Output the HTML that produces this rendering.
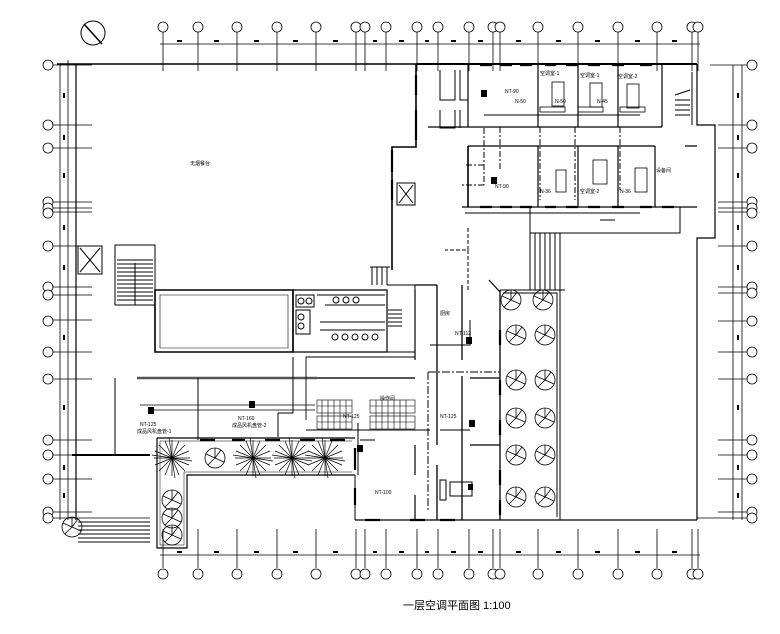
<!DOCTYPE html>
<html><head><meta charset="utf-8"><style>
html,body{margin:0;padding:0;background:#fff;width:780px;height:634px;overflow:hidden}
svg{display:block}
text{font-family:"Liberation Sans","Noto Sans CJK SC",sans-serif;fill:#000}
</style></head><body>
<svg width="780" height="634" viewBox="0 0 780 634" xmlns="http://www.w3.org/2000/svg">
<defs>
<g id="palm" stroke="#000" stroke-width="0.7">
<line x1="-18" y1="0" x2="18" y2="0"/><line x1="0" y1="-18" x2="0" y2="18"/>
<line x1="-13" y1="-13" x2="13" y2="13"/><line x1="-13" y1="13" x2="13" y2="-13"/>
<line x1="-17" y1="-7" x2="17" y2="7"/><line x1="-17" y1="7" x2="17" y2="-7"/>
<line x1="-7" y1="-17" x2="7" y2="17"/><line x1="-7" y1="17" x2="7" y2="-17"/>
<line x1="-20" y1="-3" x2="20" y2="3"/><line x1="-3" y1="-20" x2="3" y2="20"/>
</g>
<g id="tree" stroke="#000" stroke-width="0.8" fill="none">
<circle r="10"/><line x1="0" y1="0" x2="0" y2="-10"/><line x1="0" y1="0" x2="9" y2="4"/><line x1="0" y1="0" x2="-7" y2="7"/><line x1="0" y1="0" x2="-9" y2="-4"/><line x1="0" y1="0" x2="6" y2="-8"/>
</g>
<g id="gc"><circle r="5" fill="#fff" stroke="#000" stroke-width="0.8"/></g>
</defs>

<circle cx="93" cy="33" r="12" fill="none" stroke="#000"/>
<line x1="84" y1="24" x2="102" y2="44" stroke="#000" stroke-width="1.5"/>

<g stroke="#000" stroke-width="0.8" fill="none">
<line x1="160" y1="44" x2="700" y2="44"/>
<line x1="160" y1="555" x2="700" y2="555"/>
<path d="M163 32V71M198 32V71M237 32V71M277 32V71M316 32V71M356 32V71M365 32V71M386 32V71M417 32V71M438 32V71M469 32V71M493 32V71M500 32V71M538 32V71M578 32V71M618 32V71M657 32V71M692 32V71M698 32V71"/>
<path d="M163 529V568M198 529V568M237 529V568M277 529V568M316 529V568M356 529V568M365 529V568M386 529V568M417 529V568M438 529V568M469 529V568M493 529V568M500 529V568M538 529V568M578 529V568M618 529V568M657 529V568M692 529V568M698 529V568"/>
<line x1="60" y1="65" x2="60" y2="520"/>
<line x1="68" y1="60" x2="68" y2="520"/>
<path d="M53 65H92M53 125H92M53 148H92M53 202H92M53 208H92M53 212H92M53 246H92M53 287H92M53 295H92M53 320H92M53 352H92M53 379H92M53 440H92M53 455H92M53 479H92M53 512H92M53 518H150"/>
<line x1="733" y1="65" x2="733" y2="520"/>
<line x1="742" y1="65" x2="742" y2="520"/>
<path d="M710 65H747M718 125H747M718 148H747M718 202H747M718 208H747M718 212H747M718 246H747M718 287H747M718 293H747M718 321H747M718 352H747M718 379H747M718 440H747M718 455H747M718 479H747M718 512H747M697 518H747"/>
</g>
<!-- dimension marks -->
<g fill="#000">
<rect x="177" y="40" width="5" height="2"/><rect x="214" y="40" width="5" height="2"/><rect x="254" y="40" width="5" height="2"/><rect x="293" y="40" width="5" height="2"/><rect x="333" y="40" width="5" height="2"/><rect x="373" y="40" width="4" height="2"/><rect x="399" y="40" width="5" height="2"/><rect x="425" y="40" width="4" height="2"/><rect x="451" y="40" width="5" height="2"/><rect x="478" y="40" width="5" height="2"/><rect x="516" y="40" width="5" height="2"/><rect x="556" y="40" width="5" height="2"/><rect x="595" y="40" width="5" height="2"/><rect x="635" y="40" width="5" height="2"/><rect x="672" y="40" width="5" height="2"/>
<rect x="177" y="551" width="5" height="2"/><rect x="214" y="551" width="5" height="2"/><rect x="254" y="551" width="5" height="2"/><rect x="293" y="551" width="5" height="2"/><rect x="333" y="551" width="5" height="2"/><rect x="373" y="551" width="4" height="2"/><rect x="399" y="551" width="5" height="2"/><rect x="425" y="551" width="4" height="2"/><rect x="451" y="551" width="5" height="2"/><rect x="478" y="551" width="5" height="2"/><rect x="516" y="551" width="5" height="2"/><rect x="556" y="551" width="5" height="2"/><rect x="595" y="551" width="5" height="2"/><rect x="635" y="551" width="5" height="2"/><rect x="672" y="551" width="5" height="2"/>
<rect x="63" y="93" width="2" height="5"/><rect x="63" y="135" width="2" height="5"/><rect x="63" y="173" width="2" height="5"/><rect x="63" y="225" width="2" height="5"/><rect x="63" y="265" width="2" height="5"/><rect x="63" y="335" width="2" height="5"/><rect x="63" y="405" width="2" height="5"/><rect x="63" y="465" width="2" height="5"/><rect x="63" y="493" width="2" height="5"/>
<rect x="737" y="93" width="2" height="5"/><rect x="737" y="135" width="2" height="5"/><rect x="737" y="173" width="2" height="5"/><rect x="737" y="225" width="2" height="5"/><rect x="737" y="265" width="2" height="5"/><rect x="737" y="335" width="2" height="5"/><rect x="737" y="405" width="2" height="5"/><rect x="737" y="465" width="2" height="5"/><rect x="737" y="493" width="2" height="5"/>
</g>

<g>
<use href="#gc" x="163" y="27"/><use href="#gc" x="198" y="27"/><use href="#gc" x="237" y="27"/><use href="#gc" x="277" y="27"/><use href="#gc" x="316" y="27"/><use href="#gc" x="356" y="27"/><use href="#gc" x="365" y="27"/><use href="#gc" x="386" y="27"/><use href="#gc" x="417" y="27"/><use href="#gc" x="438" y="27"/><use href="#gc" x="469" y="27"/><use href="#gc" x="493" y="27"/><use href="#gc" x="500" y="27"/><use href="#gc" x="538" y="27"/><use href="#gc" x="578" y="27"/><use href="#gc" x="618" y="27"/><use href="#gc" x="657" y="27"/><use href="#gc" x="692" y="27"/><use href="#gc" x="698" y="27"/>
<use href="#gc" x="163" y="574"/><use href="#gc" x="198" y="574"/><use href="#gc" x="237" y="574"/><use href="#gc" x="277" y="574"/><use href="#gc" x="316" y="574"/><use href="#gc" x="356" y="574"/><use href="#gc" x="365" y="574"/><use href="#gc" x="386" y="574"/><use href="#gc" x="417" y="574"/><use href="#gc" x="438" y="574"/><use href="#gc" x="469" y="574"/><use href="#gc" x="493" y="574"/><use href="#gc" x="500" y="574"/><use href="#gc" x="538" y="574"/><use href="#gc" x="578" y="574"/><use href="#gc" x="618" y="574"/><use href="#gc" x="657" y="574"/><use href="#gc" x="692" y="574"/><use href="#gc" x="698" y="574"/>
<use href="#gc" x="48" y="65"/><use href="#gc" x="48" y="125"/><use href="#gc" x="48" y="148"/><use href="#gc" x="48" y="202"/><use href="#gc" x="48" y="208"/><use href="#gc" x="48" y="213"/><use href="#gc" x="48" y="246"/><use href="#gc" x="48" y="287"/><use href="#gc" x="48" y="295"/><use href="#gc" x="48" y="321"/><use href="#gc" x="48" y="352"/><use href="#gc" x="48" y="379"/><use href="#gc" x="48" y="440"/><use href="#gc" x="48" y="455"/><use href="#gc" x="48" y="479"/><use href="#gc" x="48" y="512"/><use href="#gc" x="48" y="518"/>
<use href="#gc" x="752" y="65"/><use href="#gc" x="752" y="125"/><use href="#gc" x="752" y="148"/><use href="#gc" x="752" y="202"/><use href="#gc" x="752" y="208"/><use href="#gc" x="752" y="213"/><use href="#gc" x="752" y="246"/><use href="#gc" x="752" y="287"/><use href="#gc" x="752" y="293"/><use href="#gc" x="752" y="321"/><use href="#gc" x="752" y="352"/><use href="#gc" x="752" y="379"/><use href="#gc" x="752" y="440"/><use href="#gc" x="752" y="455"/><use href="#gc" x="752" y="479"/><use href="#gc" x="752" y="512"/><use href="#gc" x="752" y="518"/>
</g>

<g stroke="#000" fill="none">
<path d="M57 64H416" stroke-width="1.6"/>
<path d="M416 64H697" stroke-width="2"/>
<path d="M76 64V520" stroke-width="1.2"/>
<path d="M416 64V147H392V270" stroke-width="1.6"/>
<path d="M697 64V125H715V238H697V520" stroke-width="1.2"/>
<path d="M692 72V125" stroke-width="1"/>
<path d="M355 520H697" stroke-width="1.2"/>
<path d="M355 475V520" stroke-width="1"/>
<path d="M468 65V127M538 65V127M578 65V127M618 65V127M662 65V127M428 127H662M468 146H655M468 146V207M538 146V207M578 146V207M618 146V207M655 146V207M462 207H697M685 146H697" stroke-width="1.2"/>
<path d="M530 207V233H680V207" stroke-width="1"/>
<path d="M468 146V207" stroke-width="1.5"/>
<path d="M675 95L690 90M675 100H690M675 105H690M675 110H690M675 115H690"/>
<path d="M530 233V290M535 233V290M540 233V290M545 233V290M550 233V290M555 233V290M560 233V290M528 290H565"/>
<path d="M440 70V100H455V70M460 70V100H468M440 110V128H455V110M460 110V128"/>
<rect x="78" y="246" width="24" height="28"/>
<path d="M80 248L100 272M100 248L80 272"/>
<rect x="397" y="183" width="18" height="22"/>
<path d="M399 185L413 203M413 185L399 203"/>
<rect x="115" y="245" width="40" height="60"/>
<path d="M117 260H153M117 264H153M117 268H153M117 272H153M117 276H153M117 280H153M117 284H153M117 288H153M117 292H153M117 296H153M117 300H153M135 263V305"/>
<path d="M155 290H293V352H155Z" stroke-width="1.6"/>
<path d="M160 295H288V348H160Z" stroke-width="0.6"/>
<path d="M293 290H387V352H293Z" stroke-width="1.2"/>
<path d="M317 295H385M325 305H385M320 322H385M320 330H385M387 285H415V352H387"/>
<rect x="296" y="295" width="18" height="12"/><rect x="296" y="310" width="14" height="24"/>
<circle cx="301" cy="301" r="3"/><circle cx="309" cy="301" r="3"/><circle cx="301" cy="317" r="3"/><circle cx="301" cy="326" r="3"/>
<circle cx="336" cy="300" r="3"/><circle cx="346" cy="300" r="3"/><circle cx="356" cy="300" r="3"/>
<circle cx="335" cy="337" r="3"/><circle cx="345" cy="337" r="3"/><circle cx="355" cy="337" r="3"/><circle cx="365" cy="337" r="3"/><circle cx="375" cy="337" r="3"/>
<path d="M388 310H402M388 314H402M388 318H402M388 322H402M388 326H402"/>
<path d="M372 267V285M377 267V285M382 267V285M387 267V285M370 267H390"/>
<path d="M306 357H415" stroke-width="1"/>
<path d="M137 378H317" stroke-width="2.5" stroke="#555"/>
<path d="M316 378H415" stroke-width="2" stroke="#555"/>
<path d="M72 455H150" stroke-width="2"/>
<path d="M115 378V455" />
<path d="M198 378V440"/>
<path d="M437 285V445M437 465V520M462 285V360M462 376V520M500 290V520" stroke-width="1.3"/>
<path d="M489 280L500 292" stroke-width="1.2"/>
<path d="M415 290V360M415 285H437M470 378H500M415 445V475M415 495V520M470 445H500" stroke-width="1.2"/>
<path d="M358 423V475M360 440H375" />
<rect x="450" y="482" width="22" height="14"/>
<rect x="440" y="480" width="6" height="20"/>
<g stroke-width="0.6">
<rect x="317" y="400" width="35" height="13"/><rect x="317" y="416" width="35" height="13"/>
<rect x="370" y="400" width="45" height="13"/><rect x="370" y="416" width="45" height="13"/>
<path d="M322 400V429M328 400V429M334 400V429M340 400V429M346 400V429M376 400V429M382 400V429M388 400V429M394 400V429M400 400V429M406 400V429M317 406H352M317 422H352M370 406H415M370 422H415"/>
</g>
<path d="M157 438H355M157 438V548H187V475H355" stroke-width="1.2"/>
<path d="M160 441H352M160 441V545H184V472H352" stroke-width="0.5"/>
<path d="M500 290H560V520M503 293H557V517" stroke-width="1"/>
<path d="M78 522H150M78 526H150M78 530H150M78 534H150M78 538H150M78 542H150"/>
<path d="M140 405H315M150 410H315" stroke-width="0.8"/>
<path d="M278 413V437M278 413H293V390M293 357V413" />
<path d="M306 357V420M306 430H430M440 430H470" stroke-width="0.9"/>
<path d="M470 320V345H430" />
<path d="M468 228V250H445M468 250V290" stroke-dasharray="4 2"/>
<path d="M428 372H500M428 372V510" stroke-dasharray="8 2 2 2"/>
<path d="M484 128V185M484 165H465M484 185H460M500 127V170M540 127V200M575 127V200M620 127V190" stroke-dasharray="6 2 2 2"/>
<path d="M484 115H640M465 213H640" />
<path d="M600 220H615" />
</g>

<g fill="#000">
<rect x="481" y="90" width="6" height="7"/>
<rect x="491" y="177" width="6" height="7"/>
<rect x="466" y="337" width="6" height="7"/>
<rect x="469" y="420" width="6" height="7"/>
<rect x="148" y="407" width="6" height="7"/>
<rect x="249" y="401" width="6" height="7"/>
<rect x="357" y="445" width="6" height="7"/>
<rect x="468" y="484" width="5" height="6"/>
</g>
<g fill="none" stroke="#000" stroke-width="0.8">
<rect x="552" y="82" width="12" height="24"/><rect x="590" y="83" width="12" height="24"/><rect x="627" y="84" width="12" height="24"/>
<rect x="540" y="107" width="25" height="5"/><rect x="578" y="107" width="25" height="5"/><rect x="620" y="107" width="25" height="5"/>
<rect x="556" y="170" width="10" height="22"/><rect x="593" y="160" width="14" height="24"/><rect x="635" y="168" width="12" height="24"/>
</g>
<g stroke="#000" stroke-width="2.2">
<path d="M480 65H492M500 65H512M520 65H532M545 65H556M566 65H578M588 65H600M612 65H624M640 65H652"/>
<path d="M480 207H492M500 207H512M520 207H532M545 207H556M566 207H578M588 207H600M612 207H624M640 207H652M662 207H674"/>
<path d="M392 150V172M392 180V200M416 75V95M416 110V140"/>
<path d="M355 448V470M355 488V505"/>
<path d="M500 330V345M500 380V395M500 420V435M500 470V485M500 500V515"/>
<path d="M200 440H215M232 440H245M265 440H280M300 440H315M330 440H345"/>
<path d="M365 520H380M410 520H425M440 520H455"/>
</g>

<use href="#palm" x="172" y="458"/>
<use href="#palm" x="253" y="458"/>
<use href="#palm" x="292" y="458"/>
<use href="#palm" x="325" y="458"/>
<use href="#tree" x="215" y="458"/>
<use href="#tree" x="172" y="500"/>
<use href="#tree" x="172" y="518"/>
<use href="#tree" x="172" y="535"/>
<use href="#tree" x="72" y="527"/>
<use href="#tree" x="511" y="300"/><use href="#tree" x="543" y="300"/>
<use href="#tree" x="516" y="335"/><use href="#tree" x="545" y="335"/>
<use href="#tree" x="516" y="380"/><use href="#tree" x="545" y="380"/>
<use href="#tree" x="516" y="418"/><use href="#tree" x="545" y="418"/>
<use href="#tree" x="516" y="455"/><use href="#tree" x="545" y="455"/>
<use href="#tree" x="516" y="497"/><use href="#tree" x="545" y="497"/>

<g font-size="5">
<text x="190" y="165">无烟餐台</text>
<text x="505" y="93">NT-90</text>
<text x="495" y="188">NT-90</text>
<text x="455" y="335">NT-112</text>
<text x="140" y="426">NT-125</text>
<text x="137" y="433">成品风机盘管-1</text>
<text x="238" y="420">NT-160</text>
<text x="232" y="427">成品风机盘管-2</text>
<text x="440" y="418">NT-125</text>
<text x="343" y="418">NT-125</text>
<text x="375" y="494">NT-100</text>
<text x="540" y="75">空调室-1</text><text x="580" y="77">空调室-1</text><text x="618" y="78">空调室-2</text>
<text x="515" y="103">N-50</text><text x="555" y="103">N-50</text><text x="597" y="103">N-45</text>
<text x="540" y="193">N-36</text><text x="580" y="193">空调室-2</text><text x="620" y="193">N-36</text>
<text x="656" y="172">设备间</text>
<text x="440" y="315">厨房</text>
<text x="380" y="400">操作间</text>
</g>
<text x="403" y="609" font-size="11">一层空调平面图  1:100</text>
</svg>
</body></html>
